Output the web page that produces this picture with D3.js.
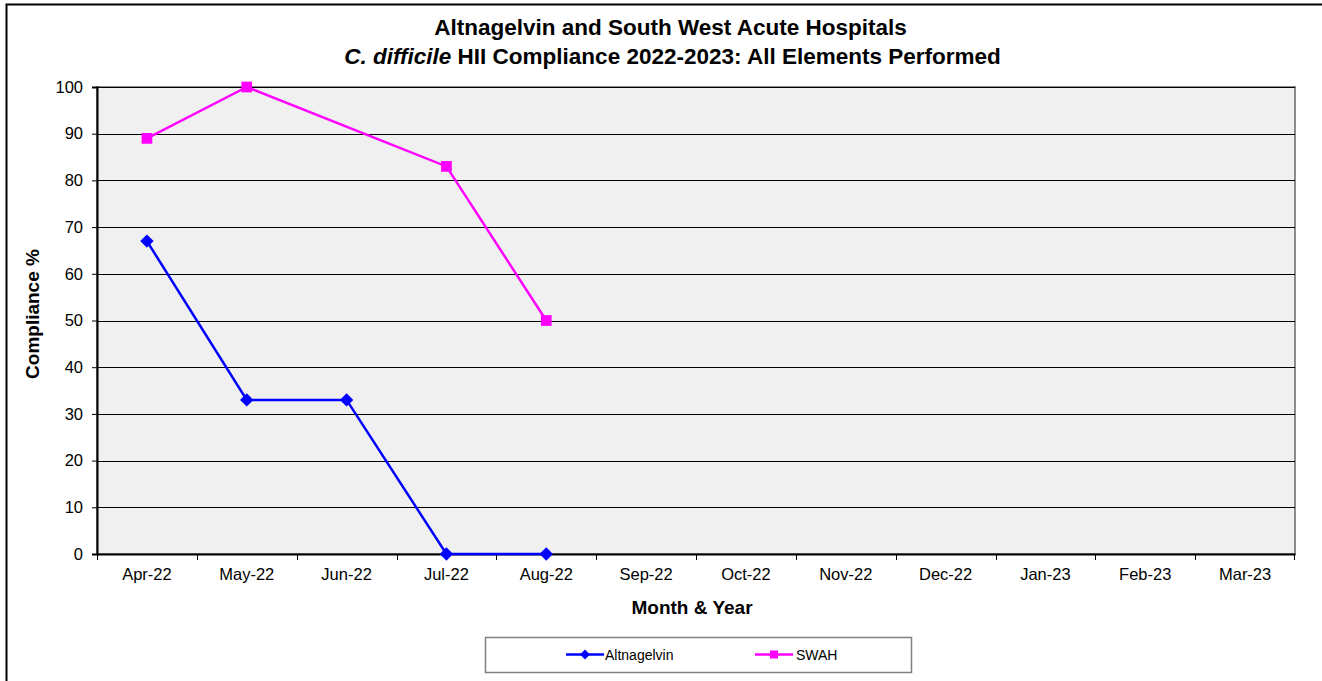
<!DOCTYPE html>
<html><head><meta charset="utf-8">
<script src="https://cdn.jsdelivr.net/npm/d3@7"></script>
<style>body{margin:0;background:#fff}svg{display:block;font-family:"Liberation Sans",Arial,sans-serif}</style>
</head><body>
<svg id="c" width="1322" height="681"></svg>
<script>
const months = ["Apr-22","May-22","Jun-22","Jul-22","Aug-22","Sep-22","Oct-22","Nov-22","Dec-22","Jan-23","Feb-23","Mar-23"];
const altnagelvin = [67,33,33,0,0,null,null,null,null,null,null,null];
const swah = [89,100,null,83,50,null,null,null,null,null,null,null];
const yTicks = [0,10,20,30,40,50,60,70,80,90,100];
const seriesNames = ["Altnagelvin","SWAH"];
const colors = ["#0000ff","#ff00ff"];

const svg = d3.select("#c");
const L=97, R=1295, T=87, B=554;
const x = d3.scaleBand().domain(months).range([L,R]);
const y = d3.scaleLinear().domain([0,100]).range([B,T]);

svg.append("rect").attr("x",6.5).attr("y",4.5).attr("width",1330).attr("height",700).attr("fill","#fff").attr("stroke","#000").attr("stroke-width",2);

svg.append("rect").attr("x",L).attr("y",T).attr("width",R-L).attr("height",B-T).attr("fill","#f0f0f0").attr("stroke","#8c8c8c").attr("stroke-width",2);

// gridlines
svg.append("g").selectAll("line").data(yTicks.filter(d=>d>0)).join("line")
  .attr("x1",L).attr("x2",R).attr("y1",d=>Math.round(y(d))+0.5).attr("y2",d=>Math.round(y(d))+0.5)
  .attr("stroke","#000").attr("stroke-width",1);

// y axis
const ya = svg.append("g").attr("transform",`translate(${L},0)`)
  .call(d3.axisLeft(y).tickValues(yTicks).tickSize(5).tickPadding(9));
ya.select(".domain").attr("stroke","#000").attr("stroke-width",2);
ya.selectAll(".tick line").attr("stroke","#000");
ya.selectAll("text").attr("font-size",16.5).attr("fill","#000").attr("font-family","'Liberation Sans',Arial");

// x axis
const xa = svg.append("g").attr("transform",`translate(0,${B})`)
  .call(d3.axisBottom(x).tickSize(0).tickPadding(14));
xa.select(".domain").attr("stroke","#000").attr("stroke-width",2);
xa.selectAll("text").attr("font-size",16.5).attr("fill","#000").attr("font-family","'Liberation Sans',Arial");
svg.append("g").selectAll("line").data(months.concat(["end"])).join("line")
  .attr("x1",(d,i)=>i<months.length?Math.round(x(d))+0.5:R-0.5)
  .attr("x2",(d,i)=>i<months.length?Math.round(x(d))+0.5:R-0.5)
  .attr("y1",B).attr("y2",B+6).attr("stroke","#000");

const diamond = {draw(ctx,size){const r=Math.sqrt(size/2);ctx.moveTo(0,-r);ctx.lineTo(r,0);ctx.lineTo(0,r);ctx.lineTo(-r,0);ctx.closePath();}};

// lines
const cx = d=>x(d)+x.bandwidth()/2;
function drawSeries(vals, color, shape, size){
  const pts = months.map((m,i)=>({m,v:vals[i]}));
  const line = d3.line().x(d=>cx(d.m)).y(d=>y(d.v));
  const valid = pts.filter(d=>d.v!=null);
  svg.append("path").datum(valid).attr("d",line).attr("fill","none").attr("stroke",color).attr("stroke-width",2.5);
  const sym = d3.symbol().type(shape).size(size);
  svg.append("g").selectAll("path").data(valid).join("path")
    .attr("transform",d=>`translate(${cx(d.m)},${y(d.v)})`)
    .attr("d",sym).attr("fill",color);
}
drawSeries(altnagelvin, colors[0], diamond, 90);
drawSeries(swah, colors[1], d3.symbolSquare, 115);

// title
const t = svg.append("text").attr("text-anchor","middle").attr("font-weight","bold").attr("font-size",22.5).attr("fill","#000");
t.append("tspan").attr("x",670.5).attr("y",35).text("Altnagelvin and South West Acute Hospitals");
const t2 = t.append("tspan").attr("x",672.5).attr("y",63.5);
t2.append("tspan").attr("font-style","italic").text("C. difficile");
t2.append("tspan").text(" HII Compliance 2022-2023: All Elements Performed");

// axis titles
svg.append("text").attr("x",692).attr("y",614).attr("text-anchor","middle").attr("font-weight","bold").attr("font-size",19).text("Month & Year");
svg.append("text").attr("transform","translate(39,314) rotate(-90)").attr("text-anchor","middle").attr("font-weight","bold").attr("font-size",19).text("Compliance %");

// legend
svg.append("rect").attr("x",485.5).attr("y",637.5).attr("width",426).attr("height",35).attr("fill","#fff").attr("stroke","#808080").attr("stroke-width",1.5);
const lg = [{x:566,tx:605},{x:755,tx:796}];
seriesNames.forEach((n,i)=>{
  const g = svg.append("g");
  g.append("line").attr("x1",lg[i].x).attr("x2",lg[i].x+38).attr("y1",654.5).attr("y2",654.5).attr("stroke",colors[i]).attr("stroke-width",2.5);
  g.append("path").attr("transform",`translate(${lg[i].x+19},654.5)`).attr("d",d3.symbol().type(i===0?diamond:d3.symbolSquare).size(i===0?50:64)).attr("fill",colors[i]);
  g.append("text").attr("x",lg[i].tx).attr("y",659.5).attr("font-size",14).attr("fill","#000").text(n);
});
</script>
</body></html>
